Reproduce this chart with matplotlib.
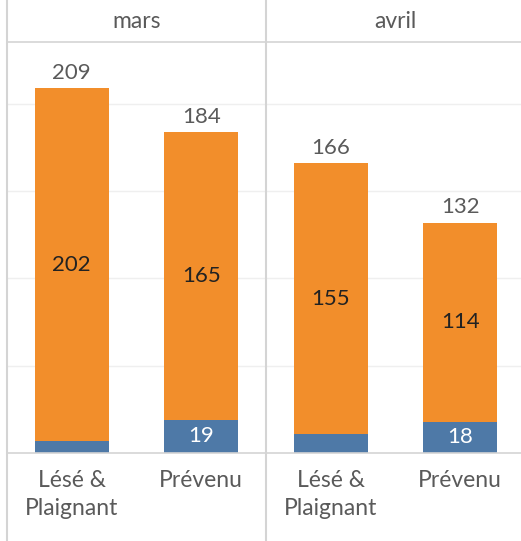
import matplotlib.pyplot as plt
from matplotlib.lines import Line2D

plt.rcParams['font.family'] = ['Lato', 'DejaVu Sans']

# data
months = ['mars', 'avril']
categories = ['Lésé &\nPlaignant', 'Prévenu']
blue_vals = {'mars': [7, 19], 'avril': [11, 18]}
orange_vals = {'mars': [202, 165], 'avril': [155, 114]}
totals = {'mars': [209, 184], 'avril': [166, 132]}
blue_labels = {'mars': [None, 19], 'avril': [None, 18]}

BLUE = '#4e79a7'
ORANGE = '#f28e2b'
GRAY = '#5a5a5a'
W, H = 521, 541

fig = plt.figure(figsize=(W / 100, H / 100), dpi=100)

x0, xmid, x1 = 7, 266, 525
ytop, ybase = 42, 453
panels = [(x0, xmid), (xmid, x1)]

for month, (l, r) in zip(months, panels):
    ax = fig.add_axes([l / W, (H - ybase) / H, (r - l) / W, (ybase - ytop) / H])
    xs = range(len(categories))
    ax.bar(xs, blue_vals[month], width=0.57, color=BLUE, zorder=2)
    ax.bar(xs, orange_vals[month], width=0.57, bottom=blue_vals[month], color=ORANGE, zorder=2)
    for i in xs:
        b = blue_vals[month][i]
        o = orange_vals[month][i]
        ax.text(i, b + o / 2, str(o), ha='center', va='center', fontsize=16, color='#222222')
        ax.text(i, totals[month][i] + 3, str(totals[month][i]), ha='center', va='bottom',
                fontsize=16, color=GRAY)
        if blue_labels[month][i] is not None:
            ax.text(i, b / 2, str(blue_labels[month][i]), ha='center', va='center',
                    fontsize=16, color='white')
        ax.text(i, -0.042, categories[i], ha='center', va='top', fontsize=16.5, color=GRAY,
                linespacing=1.4, transform=ax.get_xaxis_transform())
    ax.set_xlim(-0.5, 1.5)
    ax.set_ylim(0, 235.5)
    ax.set_yticks([50, 100, 150, 200])
    ax.grid(axis='y', color='#efefef', lw=1, zorder=0)
    ax.tick_params(left=False, bottom=False, labelleft=False, labelbottom=False)
    for s in ax.spines.values():
        s.set_visible(False)
    ax.set_facecolor('none')
    # header
    fig.text((l + r) / 2 / W, 1 - 22 / H, month, ha='center', va='center',
             fontsize=16.5, color=GRAY)

# frame lines
for x in (x0, xmid):
    fig.add_artist(Line2D([x / W, x / W], [0, 1], color='#d4d4d4', lw=1.5))
for y in (ytop, ybase):
    fig.add_artist(Line2D([x0 / W, 1], [1 - y / H, 1 - y / H], color='#d4d4d4', lw=1.2))

fig.savefig('out.png', dpi=100)
